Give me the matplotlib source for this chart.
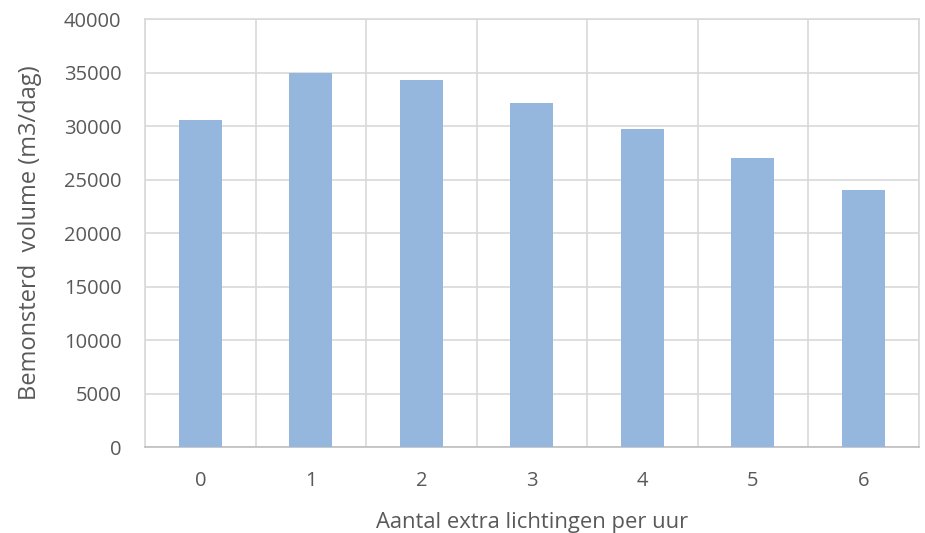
import matplotlib.pyplot as plt
import numpy as np

# sampled volume per number of extra collections per hour
extra_lichtingen = ['0', '1', '2', '3', '4', '5', '6']
volume = [30600, 35000, 34300, 32200, 29700, 27000, 24000]

plt.rcParams['font.family'] = ['Open Sans', 'DejaVu Sans']

fig = plt.figure(figsize=(9.25, 5.33), dpi=100)
ax = fig.add_axes([0.157, 0.161, 0.836, 0.803])

x = np.arange(len(extra_lichtingen))
ax.bar(x, volume, width=0.39, color='#95b7de', zorder=3)

ax.set_xlim(-0.5, len(extra_lichtingen) - 0.5)
ax.set_ylim(0, 40000)
ax.set_yticks(np.arange(0, 40001, 5000))
ax.set_xticks(x)
ax.set_xticklabels(extra_lichtingen)
# category boundaries get vertical gridlines
ax.set_xticks(np.arange(-0.5, len(extra_lichtingen), 1), minor=True)
ax.grid(axis='y', which='major', color='#d9d9d9', linewidth=1.2, zorder=0)
ax.grid(axis='x', which='minor', color='#d9d9d9', linewidth=1.2, zorder=0)
ax.tick_params(which='both', length=0)
ax.tick_params(axis='both', labelsize=14.5, colors='#595959')
ax.tick_params(axis='x', pad=17)
ax.tick_params(axis='y', pad=17)

for s in ['left', 'right', 'top']:
    ax.spines[s].set_color('#d9d9d9')
    ax.spines[s].set_linewidth(1.2)
ax.spines['bottom'].set_color('#bfbfbf')
ax.spines['bottom'].set_linewidth(1.2)

ax.set_xlabel('Aantal extra lichtingen per uur', fontsize=15.8, color='#595959', labelpad=15)
ax.set_ylabel('Bemonsterd  volume (m3/dag)', fontsize=17, color='#595959', labelpad=16)

plt.savefig('out.png', dpi=100)
